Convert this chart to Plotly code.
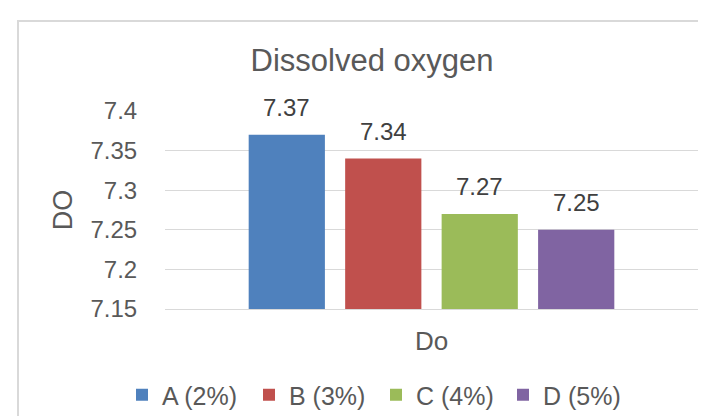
import plotly.graph_objects as go

categories = ["Do"]
series_names = ["A (2%)", "B (3%)", "C (4%)", "D (5%)"]
series_values = [[7.37], [7.34], [7.27], [7.25]]
colors = ["#4F81BD", "#C0504D", "#9BBB59", "#8064A2"]
y_ticks = [7.15, 7.2, 7.25, 7.3, 7.35, 7.4]
y_tick_labels = ["7.15", "7.2", "7.25", "7.3", "7.35", "7.4"]

FONT = "Liberation Sans, Arial, sans-serif"
TXT = "#595959"
BARGAP, BARGROUPGAP = 0.276, 0.21

fig = go.Figure()
for name, vals, col in zip(series_names, series_values, colors):
    fig.add_trace(go.Bar(
        x=categories, y=vals, name=name,
        marker=dict(color=col, line=dict(width=0)),
    ))

# data labels: anchored at each bar's top, using the axis' own category coordinates
n = len(series_names)
slot = (1 - BARGAP) / n
annotations = []
for i, vals in enumerate(series_values):
    for j, v in enumerate(vals):
        annotations.append(dict(
            x=j + (i - (n - 1) / 2) * slot, y=v, xref="x", yref="y",
            text=f"{v:.2f}", showarrow=False, yanchor="bottom", xanchor="center",
            yshift=12, font=dict(size=24, color="#404040", family=FONT)))

W, H = 706, 416
L, R, T, B = 157, 16, 103, 115
pw, ph = W - L - R, H - T - B

fig.update_layout(
    width=W, height=H,
    margin=dict(l=L, r=R, t=T, b=B, autoexpand=False),
    paper_bgcolor="white", plot_bgcolor="white",
    font=dict(family=FONT, color=TXT),
    barmode="group", bargap=BARGAP, bargroupgap=BARGROUPGAP,
    title=dict(text="Dissolved oxygen", font=dict(size=31, color=TXT),
               x=364 / W, xref="container", xanchor="center",
               y=1 - 52 / H, yref="container", yanchor="middle"),
    legend=dict(orientation="h", xref="container", yref="container",
                x=114 / W, xanchor="left", y=1 - 387 / H, yanchor="middle",
                font=dict(size=25, color=TXT), entrywidth=82, entrywidthmode="pixels",
                traceorder="normal"),
    showlegend=True,
    annotations=annotations,
    xaxis=dict(showgrid=False, showline=True, linecolor="#D9D9D9", linewidth=1,
               tickfont=dict(size=26, color=TXT), ticks="outside", ticklen=9,
               tickcolor="rgba(0,0,0,0)", automargin=False),
    yaxis=dict(range=[7.15, 7.4], tickvals=y_ticks, ticktext=y_tick_labels,
               showgrid=True, gridcolor="#D9D9D9", gridwidth=1, zeroline=False,
               showline=False, ticks="outside", ticklen=22, tickcolor="rgba(0,0,0,0)",
               automargin=False,
               tickfont=dict(size=24, color=TXT),
               title=dict(text="DO", font=dict(size=27, color=TXT), standoff=10)),
    shapes=[dict(type="rect", xref="paper", yref="paper",
                 x0=(10 - L) / pw, x1=(W + 20 - L) / pw,
                 y0=-(H + 20 - (T + ph)) / ph, y1=(T + ph - 13) / ph,
                 line=dict(color="#D9D9D9", width=2), fillcolor="rgba(0,0,0,0)",
                 layer="below")],
)

fig.write_html("out.html")
